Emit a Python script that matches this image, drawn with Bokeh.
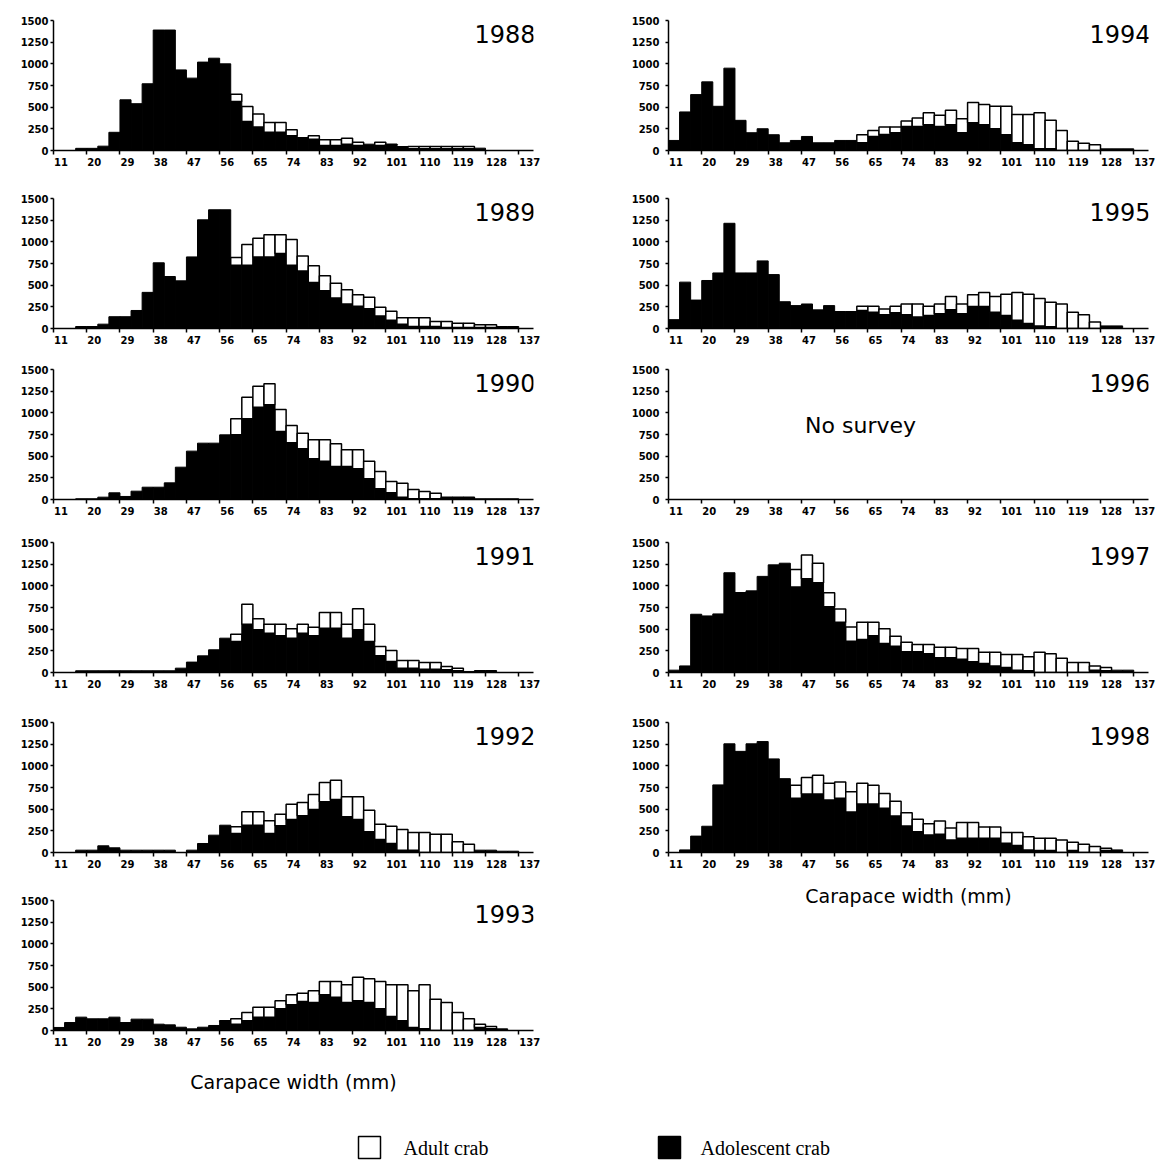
from bokeh.plotting import figure
from bokeh.layouts import column, row
from bokeh.models import Range1d, FixedTicker, Label, LinearAxis
from bokeh.core.properties import value
from bokeh.embed import file_html
from bokeh.resources import INLINE

# ---------------- data ----------------
bin_start = list(range(11, 137, 3))          # 42 bins of 3 mm (11..137)
x_ticks = [11, 20, 29, 38, 47, 56, 65, 74, 83, 92, 101, 110, 119, 128, 137]
y_ticks = [0, 250, 500, 750, 1000, 1250, 1500]

# adolescent = black part; total = adolescent + adult (top of white box)
adolescent_1988 = [0, 0, 25, 25, 50, 210, 585, 540, 770, 1390, 1390, 930, 835, 1020, 1065, 1000,
                   565, 335, 270, 210, 210, 170, 150, 130, 58, 58, 73, 58, 73, 58, 58, 46,
                   20, 20, 20, 20, 20, 20, 27, 0, 0, 0]
total_1988 = [0, 0, 25, 25, 50, 210, 585, 540, 770, 1390, 1390, 930, 835, 1020, 1065, 1000,
              650, 508, 420, 323, 323, 240, 150, 170, 123, 123, 142, 96, 73, 96, 73, 46,
              46, 46, 46, 46, 46, 46, 27, 0, 0, 0]

adolescent_1989 = [0, 0, 23, 23, 50, 136, 136, 208, 417, 758, 600, 550, 826, 1254, 1370, 1370,
                   731, 731, 826, 826, 864, 731, 663, 530, 436, 352, 284, 258, 227, 144, 95, 49,
                   23, 23, 23, 11, 11, 11, 11, 11, 23, 23]
total_1989 = [0, 0, 23, 23, 50, 136, 136, 208, 417, 758, 600, 550, 826, 1254, 1370, 1370,
              818, 970, 1042, 1083, 1083, 1026, 837, 723, 610, 523, 447, 390, 360, 246, 200, 125,
              125, 125, 80, 80, 61, 61, 42, 42, 23, 23]

adolescent_1990 = [0, 0, 8, 8, 27, 77, 35, 96, 142, 142, 192, 373, 558, 650, 650, 746,
                   746, 931, 1065, 1092, 785, 654, 585, 469, 442, 381, 381, 354, 238, 123, 77, 27,
                   8, 8, 8, 8, 8, 8, 8, 8, 8, 8]
total_1990 = [0, 0, 8, 8, 27, 77, 35, 96, 142, 142, 192, 373, 558, 650, 650, 746,
              931, 1181, 1308, 1335, 1038, 854, 765, 688, 688, 642, 573, 573, 442, 323, 208, 188,
              115, 92, 73, 27, 27, 27, 8, 8, 8, 8]

adolescent_1991 = [0, 0, 20, 20, 20, 20, 20, 20, 20, 20, 20, 50, 120, 192, 262, 396,
                   358, 558, 492, 454, 423, 396, 454, 423, 512, 512, 396, 492, 358, 192, 127, 50,
                   50, 38, 38, 31, 19, 12, 23, 23, 0, 0]
total_1991 = [0, 0, 20, 20, 20, 20, 20, 20, 20, 20, 20, 50, 120, 192, 262, 396,
              442, 788, 619, 558, 558, 504, 558, 523, 692, 692, 558, 735, 558, 300, 254, 138,
              138, 115, 115, 69, 50, 12, 23, 23, 0, 0]

adolescent_1992 = [0, 0, 27, 27, 77, 54, 27, 27, 27, 27, 27, 0, 27, 104, 200, 315,
                   219, 315, 315, 219, 308, 381, 423, 496, 585, 612, 412, 381, 238, 150, 104, 27,
                   27, 0, 0, 0, 0, 0, 27, 27, 15, 15]
total_1992 = [0, 0, 27, 27, 77, 54, 27, 27, 27, 27, 27, 0, 27, 104, 200, 315,
              296, 469, 469, 365, 442, 558, 577, 669, 808, 835, 642, 642, 488, 327, 304, 265,
              231, 231, 212, 212, 123, 96, 27, 27, 15, 15]

adolescent_1993 = [35, 92, 154, 135, 135, 154, 92, 131, 131, 73, 65, 38, 19, 38, 58, 104,
                   73, 112, 154, 154, 250, 296, 335, 323, 412, 385, 323, 342, 323, 250, 162, 112,
                   35, 19, 0, 0, 0, 0, 35, 19, 19, 0]
total_1993 = [35, 92, 154, 135, 135, 154, 92, 131, 131, 73, 65, 38, 19, 38, 58, 112,
              135, 208, 269, 269, 342, 412, 431, 458, 565, 565, 527, 615, 596, 565, 527, 527,
              458, 527, 362, 323, 208, 135, 73, 46, 19, 0]

adolescent_1994 = [116, 445, 645, 792, 510, 950, 348, 205, 251, 182, 89, 116, 162, 89, 89, 116,
                   116, 89, 162, 186, 205, 278, 278, 298, 278, 298, 205, 321, 298, 251, 182, 89,
                   66, 19, 19, 0, 0, 0, 0, 19, 19, 19]
total_1994 = [116, 445, 645, 792, 510, 950, 348, 205, 251, 182, 89, 116, 162, 89, 89, 116,
              116, 182, 232, 271, 271, 340, 375, 437, 406, 464, 367, 553, 530, 510, 510, 414,
              414, 437, 348, 232, 108, 85, 66, 19, 19, 19]

adolescent_1995 = [102, 535, 328, 554, 641, 1214, 641, 641, 780, 622, 309, 264, 283, 215, 264, 196,
                   196, 207, 188, 158, 181, 158, 132, 151, 170, 215, 170, 253, 253, 188, 151, 94,
                   57, 30, 19, 0, 0, 0, 0, 30, 30, 0]
total_1995 = [102, 535, 328, 554, 641, 1214, 641, 641, 780, 622, 309, 264, 283, 215, 264, 196,
              196, 256, 256, 226, 256, 283, 283, 256, 283, 369, 283, 388, 415, 369, 396, 415,
              396, 347, 302, 283, 188, 158, 75, 30, 30, 0]

adolescent_1997 = [27, 76, 672, 653, 676, 1151, 923, 942, 1109, 1242, 1261, 987, 1082, 1037, 760, 581,
                   361, 380, 425, 334, 304, 239, 239, 216, 171, 171, 152, 125, 103, 76, 57, 27,
                   19, 0, 0, 0, 0, 0, 27, 19, 27, 27]
total_1997 = [27, 76, 672, 653, 676, 1151, 923, 942, 1109, 1242, 1261, 1189, 1356, 1261, 919, 733,
              524, 581, 581, 505, 418, 349, 323, 323, 292, 292, 277, 277, 235, 235, 209, 209,
              182, 235, 216, 163, 114, 114, 76, 57, 27, 27]

adolescent_1998 = [0, 30, 189, 303, 780, 1254, 1167, 1254, 1280, 1080, 852, 625, 674, 674, 606, 625,
                   466, 561, 561, 511, 420, 307, 239, 201, 212, 144, 163, 163, 163, 163, 106, 80,
                   30, 23, 23, 0, 23, 0, 0, 23, 30, 0]
total_1998 = [0, 30, 189, 303, 780, 1254, 1167, 1254, 1280, 1080, 852, 777, 864, 890, 799, 814,
              701, 799, 777, 682, 591, 458, 383, 333, 364, 284, 345, 345, 295, 295, 231, 231,
              182, 163, 163, 144, 117, 95, 68, 49, 30, 0]

left_years = [("1988", adolescent_1988, total_1988),
              ("1989", adolescent_1989, total_1989),
              ("1990", adolescent_1990, total_1990),
              ("1991", adolescent_1991, total_1991),
              ("1992", adolescent_1992, total_1992),
              ("1993", adolescent_1993, total_1993)]
right_years = [("1994", adolescent_1994, total_1994),
               ("1995", adolescent_1995, total_1995),
               ("1996", None, None),
               ("1997", adolescent_1997, total_1997),
               ("1998", adolescent_1998, total_1998)]

x_label = "Carapace width (mm)"
no_survey_text = "No survey"
legend_labels = ["Adult crab", "Adolescent crab"]

# ---------------- styling ----------------
FRAME_W = 480
FRAME_H = 130
TOP = 20
PX_PER_MM = FRAME_W / 130.0
TICK_FONT = "DejaVu Sans"
LEFT_HEIGHTS = [178, 171, 173, 180, 178, 220]
RIGHT_HEIGHTS = [178, 171, 173, 180, 220]


def label_shift(s):
    # tick labels start at their tick (left aligned): shift centre by half label width
    return round((len(s) * 7.0 / 2.0 + 0.5) / PX_PER_MM, 3)


def make_panel(year, adol, total, width, border_left, height, xlabel_standoff, ylabel_standoff):
    border_bottom = height - TOP - FRAME_H
    p = figure(width=width, height=height,
               x_range=Range1d(11, 141), y_range=Range1d(0, 1500),
               output_backend="svg", toolbar_location=None,
               min_border_left=border_left, min_border_right=width - border_left - FRAME_W,
               min_border_top=TOP, min_border_bottom=border_bottom)
    p.grid.visible = False
    p.outline_line_color = None
    p.background_fill_color = "white"

    if adol is not None:
        lefts = bin_start
        rights = [b + 3 for b in bin_start]
        p.quad(left=lefts, right=rights, bottom=[0] * len(adol), top=adol,
               fill_color="black", line_color="black", line_width=1)
        idx = [i for i in range(len(adol)) if total[i] > adol[i]]
        p.quad(left=[lefts[i] for i in idx], right=[rights[i] for i in idx],
               bottom=[adol[i] for i in idx], top=[total[i] for i in idx],
               fill_color="white", line_color="black", line_width=1.5)

    # real x axis: line and tick marks only
    xa = p.xaxis[0]
    xa.ticker = FixedTicker(ticks=x_ticks)
    xa.major_label_overrides = {t: "" for t in x_ticks}
    xa.major_label_text_font_size = "0px"
    xa.major_label_standoff = 0
    xa.major_tick_out = 4

    # label axis: labels start at their ticks
    shifted = [round(t + label_shift(str(t)), 3) for t in x_ticks]
    xl = LinearAxis(ticker=FixedTicker(ticks=shifted),
                    major_label_overrides={s: str(t) for s, t in zip(shifted, x_ticks)},
                    axis_line_color=None, major_tick_line_color=None,
                    minor_tick_line_color=None, major_tick_out=0, major_tick_in=0,
                    major_label_standoff=3)
    p.add_layout(xl, "below")

    ya = p.yaxis[0]
    ya.ticker = FixedTicker(ticks=y_ticks)
    ya.major_tick_out = 3
    ya.major_label_standoff = ylabel_standoff

    for ax in (xa, ya):
        ax.axis_line_color = "black"
        ax.axis_line_width = 1.5
        ax.major_tick_line_color = "black"
        ax.major_tick_line_width = 1.5
        ax.major_tick_in = 0
        ax.minor_tick_line_color = None
    for ax in (xl, ya):
        ax.major_label_text_font = TICK_FONT
        ax.major_label_text_font_size = "10px"
        ax.major_label_text_font_style = "bold"
        ax.major_label_text_color = "black"

    if xlabel_standoff is not None:
        xl.axis_label = x_label
        xl.axis_label_text_font = "DejaVu Sans"
        xl.axis_label_text_font_size = "19px"
        xl.axis_label_text_font_style = "normal"
        xl.axis_label_text_color = "black"
        xl.axis_label_standoff = xlabel_standoff

    p.add_layout(Label(x=141, y=1350, x_offset=2, text=year, text_align="right",
                       text_baseline="middle", text_font="DejaVu Sans",
                       text_font_size="24px", text_color="black"))
    if adol is None:
        p.add_layout(Label(x=48, y=850, text=no_survey_text, text_align="left",
                           text_baseline="middle", text_font="DejaVu Sans",
                           text_font_size="22px", text_color="black"))
    return p


left_figs = []
for k, (yr, a, t) in enumerate(left_years):
    last = k == len(left_years) - 1
    left_figs.append(make_panel(yr, a, t, 614, 53, LEFT_HEIGHTS[k], 22 if last else None, 2))

right_figs = []
for k, (yr, a, t) in enumerate(right_years):
    last = k == len(right_years) - 1
    right_figs.append(make_panel(yr, a, t, 546, 54, RIGHT_HEIGHTS[k], 14 if last else None, 6))

# ---------------- legend ----------------
leg = figure(width=1160, height=60, x_range=Range1d(0, 1160), y_range=Range1d(60, 0),
             output_backend="svg", toolbar_location=None, min_border=0)
leg.axis.visible = False
leg.grid.visible = False
leg.outline_line_color = None
leg.quad(left=[358, 658], right=[380, 680], top=[36, 36], bottom=[58, 58],
         fill_color=["white", "black"], line_color="black", line_width=1.5)
leg.text(x=[403, 700], y=[47, 47], text=legend_labels, text_baseline="middle",
         text_font=value("Liberation Serif"), text_font_size="20px", text_color="black")

layout = column(row(column(*left_figs), column(*right_figs)), leg)

open("out.html", "w").write(file_html(layout, INLINE))
